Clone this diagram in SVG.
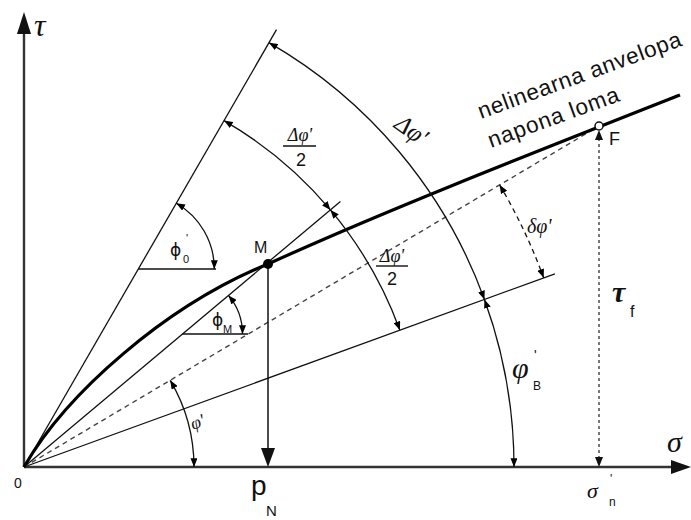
<svg xmlns="http://www.w3.org/2000/svg" width="691" height="520" viewBox="0 0 691 520">
<defs>
<marker id="ah" viewBox="0 0 10 8" refX="10" refY="4" markerWidth="9" markerHeight="7" markerUnits="userSpaceOnUse" orient="auto-start-reverse"><path d="M0,0 L10,4 L0,8 z" fill="#000"/></marker>
</defs>
<style>
.thin{stroke:#111;stroke-width:1.3;fill:none}
.arc{stroke:#111;stroke-width:1.3;fill:none;marker-start:url(#ah);marker-end:url(#ah)}
.dash{stroke:#444;stroke-width:1.4;fill:none;stroke-dasharray:5 4}
.dot{stroke:#555;stroke-width:1.6;fill:none;stroke-dasharray:3 3}
.axis{stroke:#333;stroke-width:2.4;fill:none}
.sans{font-family:"Liberation Sans",Arial,sans-serif;fill:#111}
.serif{font-family:"Liberation Serif","Times New Roman",serif;fill:#111}
.dv{font-family:"DejaVu Sans",sans-serif;fill:#111}
</style>
<rect width="691" height="520" fill="#fff"/>
<g id="axes">
<line class="axis" x1="24" y1="467" x2="24" y2="32"/>
<polygon points="24,12 17,34 31,34" fill="#111"/>
<line class="axis" x1="24" y1="467" x2="674" y2="467"/>
<polygon points="691,467 671,460 671,474" fill="#111"/>
</g>
<g id="rays">
<line class="thin" x1="24" y1="467" x2="276.5" y2="29.7"/>
<line class="thin" x1="24" y1="467" x2="340.4" y2="201.5"/>
<line class="thin" x1="24" y1="467" x2="554.9" y2="273.8"/>
<line class="dash" x1="24" y1="467" x2="599" y2="126"/>
<line class="thin" x1="138.3" y1="269" x2="216" y2="269"/>
<line class="thin" x1="182.5" y1="334" x2="248" y2="334"/>
</g>
<g id="envelope">
<path d="M24,467 C66,394 165,306 268,264 C380,213 520,158 680,95" fill="none" stroke="#000" stroke-width="3.2"/>
</g>
<g id="connectors">
<path class="arc" d="M269,42.65 A490,490 0 0 1 484.45,299.41"/>
<path class="arc" d="M484.45,299.41 A490,490 0 0 1 514,467"/>
<path class="arc" d="M224,120.59 A400,400 0 0 1 330.42,209.89"/>
<path class="arc" d="M330.42,209.89 A400,400 0 0 1 399.88,330.19"/>
<path class="arc" style="stroke-dasharray:5 4" d="M499.6,184.9 A553,553 0 0 1 543.65,277.86"/>
<path class="arc" d="M170.2,380.3 A170,170 0 0 1 194,467"/>
<path class="arc" d="M176.3,203.2 A76,76 0 0 1 214.3,269"/>
<path class="arc" d="M228.46,295.43 A60,60 0 0 1 242.5,334"/>
<line x1="268" y1="264" x2="268" y2="452" stroke="#111" stroke-width="1.5"/>
<polygon points="268,467 261,448 275,448" fill="#111"/>
<line class="dot" x1="599" y1="138" x2="599" y2="457"/>
<polygon points="599,130 595,140 603,140" fill="#111"/>
<polygon points="599,467 595,457 603,457" fill="#111"/>
</g>
<g id="node-M">
<circle cx="268" cy="264" r="5" fill="#000"/>
<text class="sans" x="254" y="253" font-size="16">M</text>
</g>
<g id="node-F">
<circle cx="599" cy="126" r="4" fill="#fff" stroke="#111" stroke-width="1.5"/>
<text class="sans" x="609" y="145" font-size="18">F</text>
</g>
<g id="labels">
<text class="serif" x="34" y="36" font-size="32" font-style="italic">τ</text>
<text class="serif" x="667" y="452" font-size="30" font-style="italic">σ</text>
<text class="sans" x="14" y="488" font-size="14">0</text>
<text class="sans" x="251" y="495" font-size="28">p</text>
<text class="sans" x="266" y="516" font-size="15">N</text>
<text class="sans" font-size="22.5" textLength="215" transform="rotate(-20 481 119)" x="481" y="119">nelinearna anvelopa</text>
<text class="sans" font-size="22.5" textLength="138" transform="rotate(-20 491 148)" x="491" y="148">napona loma</text>
<text class="serif" x="393" y="127" font-size="25" font-style="italic" transform="rotate(35 393 127)">Δφ'</text>
<text class="serif" x="300" y="141" font-size="18" text-anchor="middle" font-style="italic">Δφ'</text>
<line x1="283" y1="146" x2="316" y2="146" stroke="#111" stroke-width="1.4"/>
<text class="sans" x="301" y="166" font-size="18" text-anchor="middle">2</text>
<text class="serif" x="392" y="262" font-size="18" text-anchor="middle" font-style="italic">Δφ'</text>
<line x1="376" y1="266" x2="408" y2="266" stroke="#111" stroke-width="1.4"/>
<text class="sans" x="392" y="285" font-size="18" text-anchor="middle">2</text>
<text class="serif" x="527" y="233" font-size="20" font-style="italic">δφ'</text>
<text class="serif" x="612" y="302" font-size="30" font-style="italic" font-weight="bold">τ</text>
<text class="sans" x="630" y="317" font-size="16">f</text>
<text class="serif" x="587" y="498" font-size="22" font-style="italic">σ</text>
<text class="sans" x="609" y="506" font-size="12">n</text>
<text class="sans" x="610" y="483" font-size="12">'</text>
<text class="serif" x="512" y="378" font-size="30" font-style="italic">φ</text>
<text class="sans" x="534" y="360" font-size="14">'</text>
<text class="sans" x="533" y="390" font-size="12">B</text>
<text class="serif" x="193" y="430" font-size="18" font-style="italic" transform="rotate(-20 193 430)">φ'</text>
<text class="dv" x="170" y="256" font-size="17">ϕ</text>
<text class="sans" x="183" y="263" font-size="11">0</text>
<text class="sans" x="186" y="242" font-size="11">'</text>
<text class="dv" x="212" y="326" font-size="17">ϕ</text>
<text class="sans" x="223" y="333" font-size="11">M</text>
</g>
</svg>
